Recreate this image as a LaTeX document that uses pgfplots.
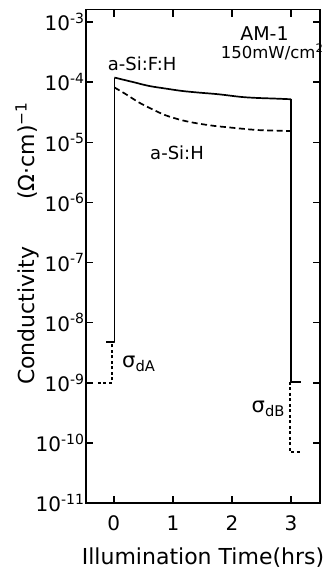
\documentclass[border=0pt]{standalone}
\usepackage{fontspec}
\setmainfont{DejaVu Sans}
\usepackage{pgfplots}
\pgfplotsset{compat=1.18}
\begin{document}
\begin{tikzpicture}
\begin{axis}[
  name=ax,
  scale only axis,
  width=234pt, height=493.5pt,
  xmin=-0.47, xmax=3.49,
  ymode=log, ymin=1e-11, ymax=1.622e-3,
  axis line style={line width=1.8pt},
  major tick length=7pt,
  every tick/.style={line width=1.5pt, black},
  tick align=inside,
  xtick={0,1,2,3},
  xticklabels={0,1,2,3},
  ytick={1e-11,1e-10,1e-9,1e-8,1e-7,1e-6,1e-5,1e-4,1e-3},
  yticklabels={10\textsuperscript{-11},10\textsuperscript{-10},10\textsuperscript{-9},10\textsuperscript{-8},10\textsuperscript{-7},10\textsuperscript{-6},10\textsuperscript{-5},10\textsuperscript{-4},10\textsuperscript{-3}},
  minor tick num=0,
  yminorticks=false,
  tick label style={font=\fontsize{20}{24}\selectfont},
  xticklabel style={yshift=-9pt},
  yticklabel style={xshift=2pt},
  xlabel={Illumination Time(hrs)},
  ylabel={Conductivity\hspace{47pt}(Ω·cm)\textsuperscript{−1}},
  label style={font=\fontsize{22}{26}\selectfont},
  xlabel style={at={(rel axis cs:0.5,-0.1115)}, anchor=center},
  ylabel style={at={(rel axis cs:-0.252,0.526)}, anchor=center},
  clip=false,
]
% a-Si:F:H (solid)
\addplot[black, line width=1.7pt, line join=round] coordinates {
  (-0.13,4.8e-9) (0.01,4.8e-9) (0.01,1.197e-4)};
\addplot[black, line width=1.7pt, smooth, tension=0.5] coordinates {
  (0.01,1.197e-4) (0.317,1.012e-4) (0.597,8.67e-5) (0.877,7.85e-5)
  (1.155,7.16e-5) (1.435,6.73e-5) (1.771,6.31e-5) (2.161,5.69e-5)
  (2.441,5.47e-5) (2.722,5.35e-5) (3.0,5.21e-5)};
\addplot[black, line width=1.7pt, line join=round] coordinates {
  (3.0,5.21e-5) (3.0,1.04e-9) (3.16,1.04e-9)};
% a-Si:H (dashed)
\addplot[black, line width=1.7pt, smooth, tension=0.5, dash pattern=on 6pt off 3.5pt] coordinates {
  (0.01,8.2e-5) (0.206,6.31e-5) (0.429,4.59e-5) (0.652,3.55e-5)
  (0.877,2.82e-5) (1.155,2.33e-5) (1.435,2.05e-5) (1.715,1.87e-5)
  (1.883,1.80e-5) (2.161,1.69e-5) (2.441,1.60e-5) (2.722,1.57e-5)
  (3.0,1.54e-5)};
% dark conductivity steps (dashed)
\addplot[black, line width=1.5pt, dash pattern=on 3pt off 2.5pt] coordinates {
  (-0.27,1e-9) (-0.03,1e-9) (-0.03,4.8e-9)};
\addplot[black, line width=1.5pt, dash pattern=on 3pt off 2.5pt] coordinates {
  (2.98,1.04e-9) (2.98,7.1e-11) (3.16,7.1e-11)};
% annotations
\node[font=\fontsize{19}{22}\selectfont] at (axis cs:2.55,6.46e-4) {AM-1};
\node[font=\fontsize{16.5}{20}\selectfont] at (axis cs:2.68,3.16e-4) {150mW/cm\textsuperscript{2}};
\node[font=\fontsize{18}{22}\selectfont] at (axis cs:0.48,2.05e-4) {a-Si:F:H};
\node[font=\fontsize{18}{22}\selectfont] at (axis cs:1.07,6.8e-6) {a-Si:H};
\node[font=\fontsize{21}{24}\selectfont, anchor=west, inner sep=0pt] at (axis cs:0.14,2.09e-9) {σ\textsubscript{dA}};
\node[font=\fontsize{21}{24}\selectfont, anchor=east, inner sep=0pt] at (axis cs:2.90,3.73e-10) {σ\textsubscript{dB}};
\end{axis}
\pgfresetboundingbox
\path[use as bounding box] ([xshift=-86pt,yshift=-72pt]ax.south west) rectangle ([xshift=11pt,yshift=9.5pt]ax.north east);
\end{tikzpicture}
\end{document}
